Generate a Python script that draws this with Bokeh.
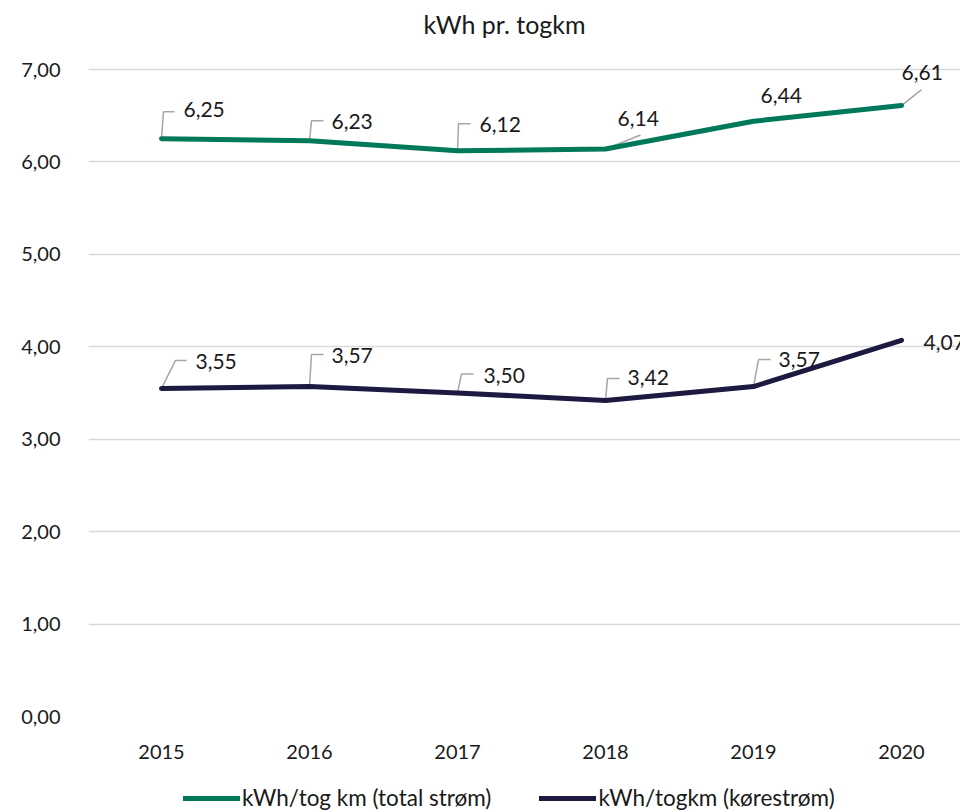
from bokeh.plotting import figure
from bokeh.layouts import column
from bokeh.models import Range1d, FixedTicker, Legend, LegendItem, Label
from bokeh.embed import file_html
from bokeh.resources import INLINE
from bokeh.core.properties import value

# ---- data ----
years = [2015, 2016, 2017, 2018, 2019, 2020]
total = [6.25, 6.23, 6.12, 6.14, 6.44, 6.61]
kore = [3.55, 3.57, 3.50, 3.42, 3.57, 4.07]
y_ticks = [0, 1, 2, 3, 4, 5, 6, 7]
y_tick_labels = ["0,00", "1,00", "2,00", "3,00", "4,00", "5,00", "6,00", "7,00"]
title_text = "kWh pr. togkm"
name_total = "kWh/tog km (total strøm)"
name_kore = "kWh/togkm (kørestrøm)"

# ---- styles / layout ----
GREEN = "#00785A"
NAVY = "#1C1A40"
LEADER = "#A6A6A6"
GRID = "#D9D9D9"
FONT = "Lato"
TXT = "#1a1a1a"

W = 960
H1, H2 = 770, 42
BL, BB = 88, 54
TOP_GAP = 69                      # px from page top to the 7,00 gridline
frame_w = W - BL
frame_h = H1 - BB
x_lo, x_hi = 2014.5068, 2020.3986
px_x = frame_w / (x_hi - x_lo)
px_y = (frame_h - TOP_GAP) / 7.0
y_hi = frame_h / px_y

# label offsets in px (dx right, dy up) from the point, text left/middle
lab_total = [(22, 29), (22, 19), (22, 26), (12, 30), (7, 26), (0, 33)]
lab_kore = [(34, 27), (22, 31), (26, 18), (22, 23), (25, 27), (22, -2)]
lead_total = [[(0, 0), (2, 27), (13, 27)], [(0, 0), (2, 20), (14, 20)],
              [(0, 0), (1, 27), (13, 27)], [(0, 0), (35, 14)], None,
              [(0, 0), (20, 16)]]
lead_kore = [[(0, 0), (14, 28), (25, 28)], [(0, 0), (2, 32), (14, 32)],
             [(0, 0), (4, 19), (16, 19)], [(0, 0), (2, 22), (14, 22)],
             [(0, 0), (5, 27), (17, 27)], None]

# ---- main chart ----
p = figure(width=W, height=H1, output_backend="svg", toolbar_location=None,
           x_range=Range1d(x_lo, x_hi), y_range=Range1d(0, y_hi),
           min_border_left=BL, min_border_right=0, min_border_top=0,
           min_border_bottom=BB)
p.outline_line_color = None
p.background_fill_color = "white"
p.border_fill_color = "white"

p.add_layout(Label(x=504 - BL, y=frame_h - 23, x_units="screen", y_units="screen",
                   text=title_text, text_align="center", text_baseline="middle",
                   text_font=FONT, text_font_size="25px", text_color=TXT))

p.xgrid.grid_line_color = None
p.ygrid.grid_line_color = GRID
p.ygrid.grid_line_width = 1.5
p.ygrid.ticker = FixedTicker(ticks=y_ticks)

p.yaxis.ticker = FixedTicker(ticks=y_ticks)
p.yaxis.major_label_overrides = {t_: l for t_, l in zip(y_ticks, y_tick_labels)}
p.xaxis.ticker = FixedTicker(ticks=years)
p.xaxis.major_label_overrides = {y: str(y) for y in years}
for ax in (p.xaxis, p.yaxis):
    ax.axis_line_color = None
    ax.major_tick_line_color = None
    ax.minor_tick_line_color = None
    ax.major_label_text_font = FONT
    ax.major_label_text_font_size = "20px"
    ax.major_label_text_color = TXT
p.yaxis.major_label_standoff = 22
p.xaxis.major_label_standoff = 22


def leaders(xs, ys, shapes):
    lx, ly = [], []
    for x, y, s in zip(xs, ys, shapes):
        if s is None:
            continue
        lx.append([x + dx / px_x for dx, dy in s])
        ly.append([y + dy / px_y for dx, dy in s])
    return lx, ly


for vals, labs, leads in ((total, lab_total, lead_total), (kore, lab_kore, lead_kore)):
    lx, ly = leaders(years, vals, leads)
    p.multi_line(lx, ly, line_color=LEADER, line_width=1.5)

line_style = dict(line_width=5, line_cap="round", line_join="round")
p.line(years, total, line_color=GREEN, **line_style)
p.line(years, kore, line_color=NAVY, **line_style)

for vals, labs in ((total, lab_total), (kore, lab_kore)):
    p.text(x=years, y=vals, text=[f"{v:.2f}".replace(".", ",") for v in vals],
           x_offset=[d[0] for d in labs], y_offset=[-d[1] for d in labs],
           text_align="left", text_baseline="middle", text_font=value(FONT),
           text_font_size="21px", text_color=TXT)

# ---- legend strip (series drawn out of view, only used for legend keys) ----
q = figure(width=W, height=H2, output_backend="svg", toolbar_location=None,
           x_range=Range1d(0, 1), y_range=Range1d(100, 101),
           min_border_left=0, min_border_right=0, min_border_top=0,
           min_border_bottom=0)
q.axis.visible = False
q.grid.visible = False
q.outline_line_color = None
q.border_fill_color = "white"
k1 = q.line(years, total, line_color=GREEN, **line_style)
k2 = q.line(years, kore, line_color=NAVY, **line_style)
legend = Legend(items=[LegendItem(label=name_total, renderers=[k1]),
                       LegendItem(label=name_kore, renderers=[k2])],
                orientation="horizontal", location=(95, 1),
                padding=0, margin=0, spacing=48, glyph_width=57, glyph_height=22,
                label_standoff=2, label_text_font=FONT, label_text_font_size="22.5px",
                label_text_color=TXT, border_line_color=None,
                background_fill_alpha=0)
q.add_layout(legend, "center")

layout = column(p, q, spacing=0)
open("out.html", "w").write(file_html(layout, INLINE))
